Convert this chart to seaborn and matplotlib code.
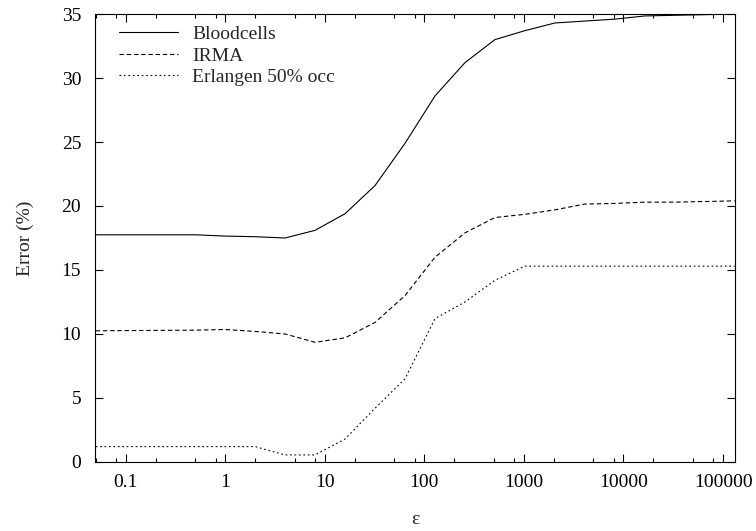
import matplotlib
matplotlib.use("Agg")
import matplotlib.pyplot as plt
import matplotlib.ticker as mticker
import numpy as np
import pandas as pd
import seaborn as sns

# epsilon values (x) and error rates (%)
eps = [0.05, 0.5, 1, 2, 4, 8, 16, 32, 64, 128, 256, 512, 1024, 2048,
       4096, 8192, 16384, 32768, 65536, 131072]
bloodcells = [17.75, 17.75, 17.65, 17.6, 17.5, 18.1, 19.4, 21.6, 24.9, 28.6,
              31.2, 33.0, 33.7, 34.3, 34.45, 34.6, 34.85, 34.9, 34.95, 35.0]
irma = [10.25, 10.3, 10.35, 10.2, 10.0, 9.35, 9.7, 10.9, 13.0, 16.0,
        17.9, 19.1, 19.35, 19.7, 20.15, 20.2, 20.3, 20.3, 20.35, 20.4]
erlangen = [1.2, 1.2, 1.2, 1.2, 0.55, 0.55, 1.8, 4.2, 6.5, 11.2,
            12.5, 14.2, 15.3, 15.3, 15.3, 15.3, 15.3, 15.3, 15.3, 15.3]
labels = ["Bloodcells", "IRMA", "Erlangen 50% occ"]

df = pd.DataFrame({
    "eps": eps * 3,
    "err": bloodcells + irma + erlangen,
    "series": [labels[0]] * len(eps) + [labels[1]] * len(eps) + [labels[2]] * len(eps),
})

sns.set_style("ticks")
plt.rcParams["font.family"] = ["Liberation Serif", "DejaVu Serif"]

fig = plt.figure(figsize=(7.56, 5.31), dpi=100)
ax = fig.add_axes([0.1257, 0.130, 0.8465, 0.8436])

sns.lineplot(data=df, x="eps", y="err", style="series", color="black",
             dashes={labels[0]: "", labels[1]: (4, 2.5), labels[2]: (1.5, 2.5)},
             linewidth=0.8, ax=ax)

ax.set_xscale("log")
ax.set_xlim(0.0493, 131826)
ax.set_ylim(0, 35)
ax.xaxis.set_major_locator(mticker.FixedLocator([0.1, 1, 10, 100, 1000, 10000, 100000]))
ax.xaxis.set_major_formatter(mticker.FixedFormatter(["0.1", "1", "10", "100", "1000", "10000", "100000"]))
ax.xaxis.set_minor_locator(mticker.LogLocator(base=10, subs=[2, 5, 8], numticks=20))
ax.xaxis.set_minor_formatter(mticker.NullFormatter())
ax.set_yticks(range(0, 36, 5))

ax.tick_params(which="both", direction="in", top=True, right=True, labelsize=14,
               width=0.8, colors="black")
ax.tick_params(which="major", length=6)
ax.tick_params(axis="x", which="major", pad=9)
ax.tick_params(axis="y", which="major", pad=10)
ax.tick_params(which="minor", length=3)
for s in ax.spines.values():
    s.set_linewidth(0.8)
    s.set_color("black")

ax.set_xlabel("ε", fontsize=14, labelpad=14)
ax.set_ylabel("Error (%)", fontsize=14, labelpad=20)

leg = ax.legend(loc="upper left", frameon=False, fontsize=14, handlelength=3.0,
                handletextpad=0.75, labelspacing=0.2, borderaxespad=0.2,
                bbox_to_anchor=(0.02, 1.0))
leg.set_title(None)

fig.savefig("out.png", dpi=100)
